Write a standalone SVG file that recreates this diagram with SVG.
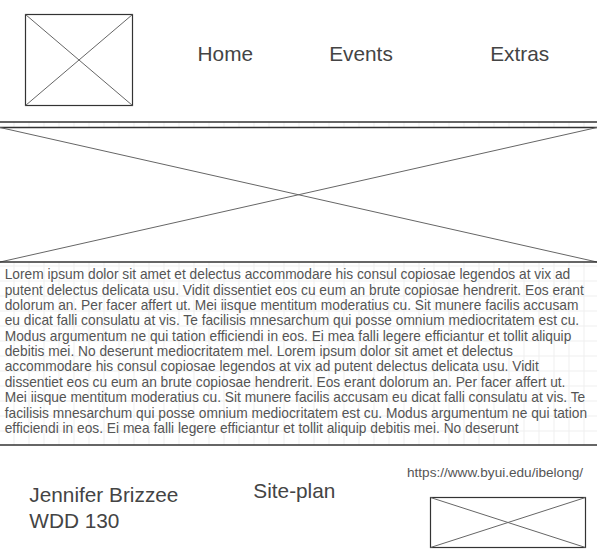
<svg xmlns="http://www.w3.org/2000/svg" width="597" height="558" viewBox="0 0 597 558">
  <style>
    .frame { fill: none; stroke: #333333; stroke-width: 1.2; }
    .cross { stroke: #666666; stroke-width: 1; fill: none; }
    .rule { stroke: #333333; stroke-width: 1.4; fill: none; }
    .big { font-family: "Liberation Sans", Arial, sans-serif; font-size: 20.8px; fill: #444444; }
    .body { font-family: "Liberation Sans", Arial, sans-serif; font-size: 13.75px; fill: #555555; }
    .url { font-family: "Liberation Sans", Arial, sans-serif; font-size: 13.6px; fill: #555555; }
  </style>
  <defs>
    <pattern id="grid" patternUnits="userSpaceOnUse" x="13.5" y="10.5" width="15" height="15">
      <path d="M0.5 0 V15 M0 0.5 H15" stroke="#efefef" stroke-width="1" fill="none"/>
    </pattern>
  </defs>
  <rect width="597" height="558" fill="#ffffff"/>
  <rect x="0" y="122" width="597" height="6" fill="url(#grid)"/>
  <rect x="0" y="262" width="597" height="183" fill="url(#grid)"/>

  <g id="logo">
    <rect class="frame" x="25.5" y="14.5" width="107" height="91"/>
    <path class="cross" d="M25.5 14.5 L132.5 105.5 M25.5 105.5 L132.5 14.5"/>
  </g>
  <g id="nav-home"><text class="big" x="225.3" y="61" text-anchor="middle">Home</text></g>
  <g id="nav-events"><text class="big" x="361" y="61" text-anchor="middle">Events</text></g>
  <g id="nav-extras"><text class="big" x="519.7" y="61" text-anchor="middle">Extras</text></g>

  <g id="divider">
    <line class="rule" x1="0" y1="122" x2="597" y2="122"/>
  </g>
  <g id="hero">
    <line class="rule" x1="0" y1="127.5" x2="597" y2="127.5"/>
    <path class="cross" d="M0 127.5 L597 262 M0 262 L597 127.5"/>
  </g>
  <g id="body-text">
    <line class="rule" x1="0" y1="262" x2="597" y2="262"/>
    <line class="rule" x1="0" y1="445" x2="597" y2="445"/>
    <text class="body" x="4.7">
      <tspan x="4.7" y="279.3">Lorem ipsum dolor sit amet et delectus accommodare his consul copiosae legendos at vix ad</tspan>
      <tspan x="4.7" y="294.7">putent delectus delicata usu. Vidit dissentiet eos cu eum an brute copiosae hendrerit. Eos erant</tspan>
      <tspan x="4.7" y="310">dolorum an. Per facer affert ut. Mei iisque mentitum moderatius cu. Sit munere facilis accusam</tspan>
      <tspan x="4.7" y="325.4">eu dicat falli consulatu at vis. Te facilisis mnesarchum qui posse omnium mediocritatem est cu.</tspan>
      <tspan x="4.7" y="340.7">Modus argumentum ne qui tation efficiendi in eos. Ei mea falli legere efficiantur et tollit aliquip</tspan>
      <tspan x="4.7" y="356.1">debitis mei. No deserunt mediocritatem mel. Lorem ipsum dolor sit amet et delectus</tspan>
      <tspan x="4.7" y="371.4">accommodare his consul copiosae legendos at vix ad putent delectus delicata usu. Vidit</tspan>
      <tspan x="4.7" y="386.8">dissentiet eos cu eum an brute copiosae hendrerit. Eos erant dolorum an. Per facer affert ut.</tspan>
      <tspan x="4.7" y="402.1">Mei iisque mentitum moderatius cu. Sit munere facilis accusam eu dicat falli consulatu at vis. Te</tspan>
      <tspan x="4.7" y="417.5">facilisis mnesarchum qui posse omnium mediocritatem est cu. Modus argumentum ne qui tation</tspan>
      <tspan x="4.7" y="432.8">efficiendi in eos. Ei mea falli legere efficiantur et tollit aliquip debitis mei. No deserunt</tspan>
    </text>
  </g>

  <g id="author">
    <text class="big" font-size="21">
      <tspan x="29.3" y="502.3">Jennifer Brizzee</tspan>
      <tspan x="29.3" y="527.5">WDD 130</tspan>
    </text>
  </g>
  <g id="site-plan"><text class="big" x="253.3" y="498.3">Site-plan</text></g>
  <g id="link-url"><text class="url" x="407" y="477.3">https://www.byui.edu/ibelong/</text></g>
  <g id="footer-image">
    <rect class="frame" x="430.5" y="497.5" width="155" height="50"/>
    <path class="cross" d="M430.5 497.5 L585.5 547.5 M430.5 547.5 L585.5 497.5"/>
  </g>
  <g id="connectors"/>
</svg>
